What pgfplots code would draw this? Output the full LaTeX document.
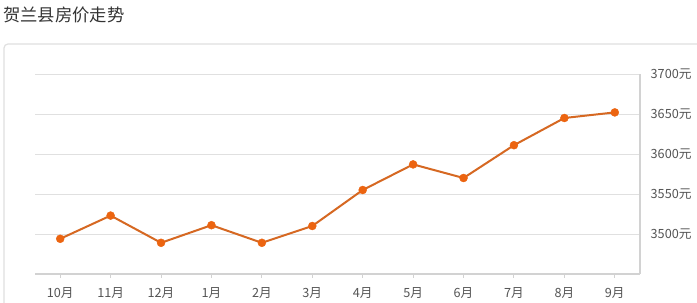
\documentclass[border=0pt]{standalone}
\usepackage{fontspec}
\usepackage{pgfplots}
\pgfplotsset{compat=1.18}
\newfontfamily\cjk{Noto Sans CJK SC}
\definecolor{linec}{RGB}{214,104,34}
\definecolor{markc}{RGB}{236,100,16}
\definecolor{gridc}{RGB}{224,224,224}
\definecolor{axc}{RGB}{210,210,210}
\definecolor{txtc}{RGB}{85,85,85}
\definecolor{titc}{RGB}{51,51,51}
\begin{document}
\begin{tikzpicture}
\clip (0pt,0pt) rectangle (522.75pt,227.25pt);
\fill[white] (0pt,0pt) rectangle (522.75pt,227.25pt);
% outer panel
\draw[gridc, line width=0.9pt, rounded corners=3pt] (3pt,194.25pt) rectangle (540pt,-15pt);
\node[anchor=west, text=titc, inner sep=0pt] at (2.25pt,216pt) {\cjk\fontsize{13pt}{15pt}\selectfont 贺兰县房价走势};
\begin{axis}[
  at={(26.25pt,21.75pt)}, anchor=south west,
  scale only axis,
  width=453.75pt, height=150pt,
  xmin=-0.5, xmax=11.5,
  ymin=3450, ymax=3700,
  axis x line=bottom, axis y line=right,
  axis line style={-, draw=axc, line width=1.2pt},
  xtick={0,...,11},
  xticklabels={10月,11月,12月,1月,2月,3月,4月,5月,6月,7月,8月,9月},
  ytick={3500,3550,3600,3650,3700},
  yticklabels={3500元,3550元,3600元,3650元,3700元},
  ymajorgrids, grid style={draw=gridc, line width=0.7pt},
  major tick length=3pt,
  ytick style={draw=none},
  xtick style={draw=axc, line width=0.8pt},
  tick align=outside,
  ticklabel style={font=\cjk\fontsize{9.5pt}{11pt}\selectfont, text=txtc},
  xticklabel style={yshift=-3.5pt},
  yticklabel style={xshift=1.5pt},
  clip=false,
]
\addplot[color=linec, line width=1.5pt, mark=*, mark size=3pt,
  mark options={fill=markc, draw=markc, line width=0.3pt}]
coordinates {
(0,3494) (1,3523) (2,3489) (3,3511) (4,3489) (5,3510)
(6,3555) (7,3587) (8,3570) (9,3611) (10,3645) (11,3652)
};
\end{axis}
\end{tikzpicture}
\end{document}
